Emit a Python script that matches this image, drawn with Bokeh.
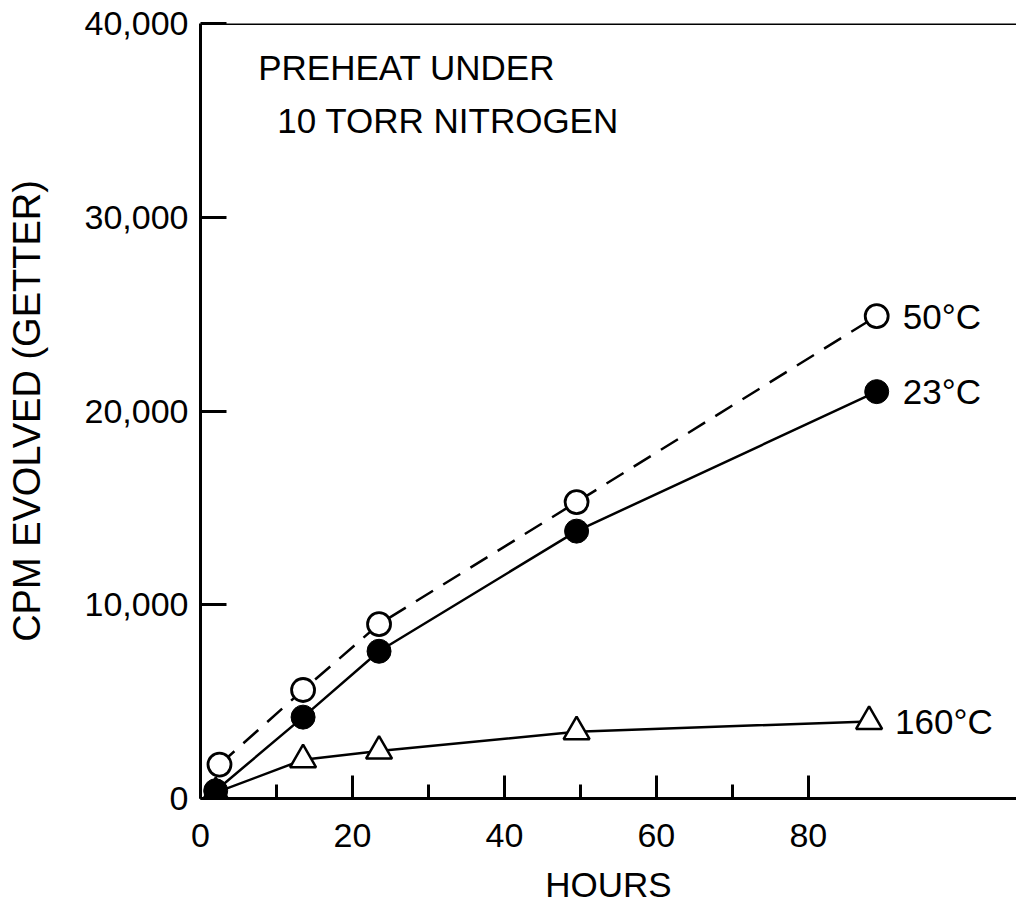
from bokeh.plotting import figure
from bokeh.models import Range1d, FixedTicker, NumeralTickFormatter, Label, Span
from bokeh.embed import file_html
from bokeh.resources import INLINE

# ---- data ----
hours_50 = [2.5, 13.5, 23.5, 49.5, 89.0]
cpm_50 = [1750, 5600, 9000, 15300, 24900]

hours_23 = [2.0, 13.5, 23.5, 49.5, 89.0]
cpm_23 = [400, 4200, 7600, 13800, 21000]

hours_160 = [2.0, 13.5, 23.5, 49.5, 88.0]
cpm_160 = [300, 2000, 2450, 3450, 3980]

labels = ["50\u00b0C", "23\u00b0C", "160\u00b0C"]
x_ticks = [0, 20, 40, 60, 80]
x_minor = [10, 30, 50, 70]
y_ticks = [0, 10000, 20000, 30000, 40000]
title_lines = ["PREHEAT UNDER", "10 TORR NITROGEN"]
x_title = "HOURS"
y_title = "CPM EVOLVED (GETTER)"

FONT = "Liberation Sans"

p = figure(width=1016, height=906, output_backend="svg", toolbar_location=None,
           x_range=Range1d(0, 107.4), y_range=Range1d(0, 40000))
p.min_border_left = 200
p.min_border_right = 0
p.min_border_top = 23
p.min_border_bottom = 108
p.outline_line_color = None
p.xgrid.visible = False
p.ygrid.visible = False
p.background_fill_color = "white"
p.border_fill_color = "white"

# x axis
xa = p.xaxis[0]
xa.ticker = FixedTicker(ticks=x_ticks, minor_ticks=x_minor)
xa.axis_line_width = 3
xa.major_tick_in = 23
xa.major_tick_out = 0
xa.minor_tick_in = 14
xa.minor_tick_out = 0
xa.major_tick_line_width = 3
xa.minor_tick_line_width = 3
xa.major_label_text_font = FONT
xa.major_label_text_font_size = "34px"
xa.major_label_text_color = "black"
xa.major_label_standoff = 25
xa.axis_label = x_title
xa.axis_label_text_font = FONT
xa.axis_label_text_font_size = "35px"
xa.axis_label_text_font_style = "normal"
xa.axis_label_text_color = "black"
xa.axis_label_standoff = 15

# y axis
ya = p.yaxis[0]
ya.ticker = FixedTicker(ticks=y_ticks)
ya.formatter = NumeralTickFormatter(format="0,0")
ya.axis_line_width = 3
ya.major_tick_in = 26
ya.major_tick_out = 0
ya.minor_tick_line_color = None
ya.major_tick_line_width = 3
ya.major_label_text_font = FONT
ya.major_label_text_font_size = "34px"
ya.major_label_text_color = "black"
ya.major_label_standoff = 12
ya.axis_label = y_title
ya.axis_label_text_font = FONT
ya.axis_label_text_font_size = "38px"
ya.axis_label_text_font_style = "normal"
ya.axis_label_text_color = "black"
ya.axis_label_standoff = 34

# top frame line
p.add_layout(Span(location=40000, dimension="width", line_color="black", line_width=3))

# curves
p.line(hours_50, cpm_50, line_color="black", line_width=2.5, line_dash="20 12")
p.line(hours_23, cpm_23, line_color="black", line_width=2.5)
p.line(hours_160, cpm_160, line_color="black", line_width=2.5)

# markers
p.scatter(hours_160, cpm_160, marker="triangle", size=26, fill_color="white",
          line_color="black", line_width=2.5)
p.scatter(hours_23, cpm_23, marker="circle", size=24, fill_color="black",
          line_color="black", line_width=1)
p.scatter(hours_50, cpm_50, marker="circle", size=23, fill_color="white",
          line_color="black", line_width=2.8)

# series labels next to last points
for xs, ys, lab in [(hours_50, cpm_50, labels[0]), (hours_23, cpm_23, labels[1]),
                    (hours_160, cpm_160, labels[2])]:
    p.add_layout(Label(x=xs[-1], y=ys[-1], x_offset=26, text=lab, text_font=FONT,
                       text_font_size="35px", text_baseline="middle", text_color="black"))

# inset title
p.add_layout(Label(x=7.6, y=37730, text=title_lines[0], text_font=FONT,
                   text_font_size="35px", text_baseline="alphabetic", text_color="black"))
p.add_layout(Label(x=10.1, y=35000, text=title_lines[1], text_font=FONT,
                   text_font_size="35px", text_baseline="alphabetic", text_color="black"))

open("out.html", "w").write(file_html(p, INLINE))
